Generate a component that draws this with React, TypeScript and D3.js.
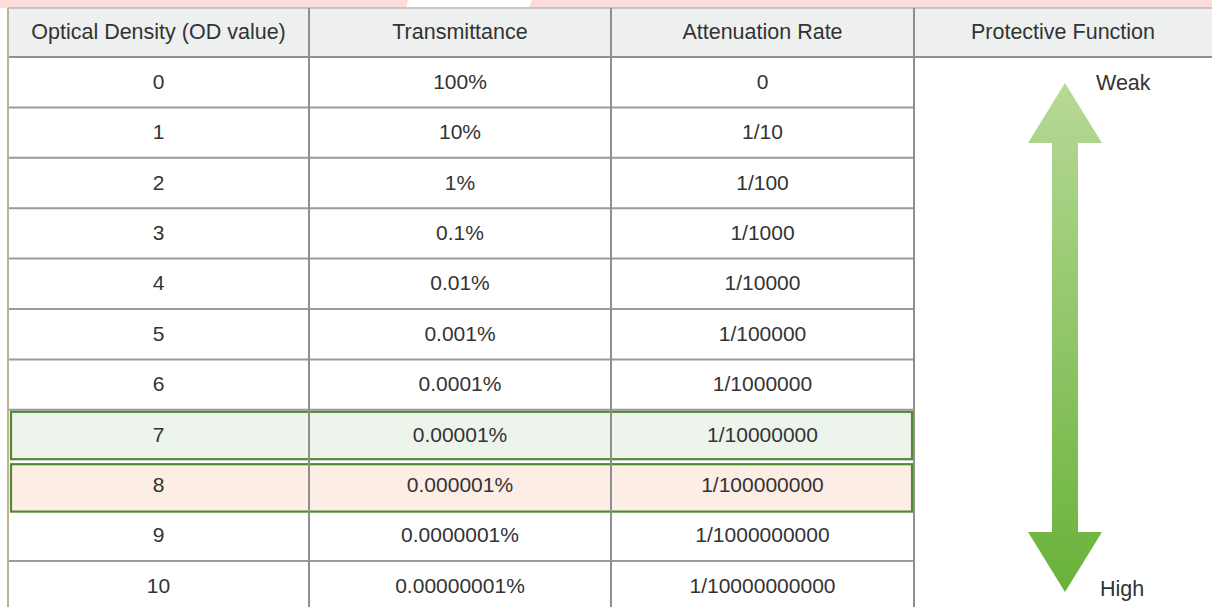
import React from 'react';
import * as d3 from 'd3';

// table content
const headers = ['Optical Density (OD value)', 'Transmittance', 'Attenuation Rate', 'Protective Function'];
const odValues = ['0', '1', '2', '3', '4', '5', '6', '7', '8', '9', '10'];
const transmittance = ['100%', '10%', '1%', '0.1%', '0.01%', '0.001%', '0.0001%', '0.00001%', '0.000001%', '0.0000001%', '0.00000001%'];
const attenuation = ['0', '1/10', '1/100', '1/1000', '1/10000', '1/100000', '1/1000000', '1/10000000', '1/100000000', '1/1000000000', '1/10000000000'];
const highlighted = [
  { od: '7', fill: '#edf4ec' },
  { od: '8', fill: '#fdeee5' },
];
const arrowLabels = { top: 'Weak', bottom: 'High' };

const W = 1212;
const H = 607;
const font = "'Liberation Sans', Arial, Helvetica, sans-serif";

export default function App() {
  const colEdges = [8, 309, 611, 914, 1212];
  const headerTop = 8;
  const headerBottom = 57;

  const y = d3.scaleBand<string>()
    .domain(odValues)
    .range([headerBottom, headerBottom + 50.4 * odValues.length]);

  const colCenter = (i: number) => (colEdges[i] + colEdges[i + 1]) / 2;
  const columns = [odValues, transmittance, attenuation];

  // arrow geometry
  const ax = 1065;
  const arrowTop = y('0')! + 26;
  const arrowBottom = y('10')! + 31;
  const headH = 60;
  const headW = 37;
  const shaftW = 13;
  const arrowPath = d3.path();
  arrowPath.moveTo(ax, arrowTop);
  arrowPath.lineTo(ax + headW, arrowTop + headH);
  arrowPath.lineTo(ax + shaftW, arrowTop + headH);
  arrowPath.lineTo(ax + shaftW, arrowBottom - headH);
  arrowPath.lineTo(ax + headW, arrowBottom - headH);
  arrowPath.lineTo(ax, arrowBottom);
  arrowPath.lineTo(ax - headW, arrowBottom - headH);
  arrowPath.lineTo(ax - shaftW, arrowBottom - headH);
  arrowPath.lineTo(ax - shaftW, arrowTop + headH);
  arrowPath.lineTo(ax - headW, arrowTop + headH);
  arrowPath.closePath();

  return (
    <svg width={W} height={H} style={{ position: 'absolute', left: 0, top: 0, background: '#fff' }}>
      <defs>
        <linearGradient id="arrowGrad" x1="0" y1="0" x2="0" y2="1">
          <stop offset="0%" stopColor="#b7d996" />
          <stop offset="100%" stopColor="#69b23a" />
        </linearGradient>
      </defs>

      {/* pink band at top */}
      <rect x={0} y={0} width={W} height={8} fill="#fcdcdb" />
      <path d="M408,0 L532,0 L529,8 L406,8 Z" fill="#ffffff" />

      {/* header */}
      <rect x={colEdges[0]} y={headerTop} width={W - colEdges[0]} height={headerBottom - headerTop} fill="#eef0f0" />

      {/* highlighted rows */}
      {highlighted.map(h => (
        <rect key={h.od}
          x={colEdges[0] + 3}
          y={y(h.od)! + (h.od === '7' ? 2 : 4)}
          width={colEdges[3] - colEdges[0] - 5}
          height={y.bandwidth() - 3}
          fill={h.fill} stroke="#4f8a31" strokeWidth={2.2} />
      ))}

      {/* horizontal lines */}
      <line x1={colEdges[0]} x2={W} y1={headerTop} y2={headerTop} stroke="#b8b8b8" strokeWidth={1.5} />
      <line x1={colEdges[0]} x2={W} y1={headerBottom} y2={headerBottom} stroke="#8f8f8f" strokeWidth={2} />
      {odValues.slice(1).map(od => (
        (od === '8' || od === '9') ? null :
        <line key={od} x1={colEdges[0]} x2={colEdges[3]} y1={y(od)!} y2={y(od)!} stroke="#9a9a9a" strokeWidth={2} />
      ))}

      {/* vertical lines */}
      <line x1={colEdges[0]} x2={colEdges[0]} y1={headerTop} y2={H} stroke="#bdb38c" strokeWidth={2} />
      {colEdges.slice(1, 4).map(x => (
        <line key={x} x1={x} x2={x} y1={headerTop} y2={H} stroke="#8f8f8f" strokeWidth={2} />
      ))}

      {/* header text */}
      {headers.map((h, i) => (
        <text key={h} x={colCenter(i)} y={(headerTop + headerBottom) / 2 + 1}
          textAnchor="middle" dominantBaseline="middle"
          fontFamily={font} fontSize={21.5} fill="#333">{h}</text>
      ))}

      {/* body text */}
      {columns.map((col, ci) => col.map((v, ri) => (
        <text key={ci + '-' + ri} x={colCenter(ci)} y={y(odValues[ri])! + y.bandwidth() / 2 + 1}
          textAnchor="middle" dominantBaseline="middle"
          fontFamily={font} fontSize={21} fill="#333">{v}</text>
      )))}

      {/* protective function arrow */}
      <path d={arrowPath.toString()} fill="url(#arrowGrad)" />
      <text x={1096} y={y('0')! + 27} dominantBaseline="middle" fontFamily={font} fontSize={21.5} fill="#333">{arrowLabels.top}</text>
      <text x={1100} y={y('10')! + 29} dominantBaseline="middle" fontFamily={font} fontSize={21.5} fill="#333">{arrowLabels.bottom}</text>
    </svg>
  );
}
